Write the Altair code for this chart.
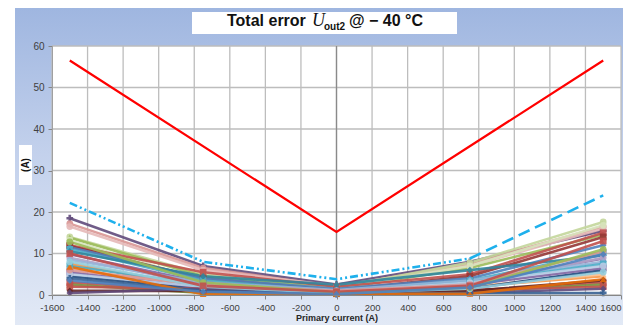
import altair as alt
import pandas as pd

W, H = 569, 249

# ---------------- data ----------------
x_pos = [-1500, -750, 0, 750, 1500]

series_colors = [
    "#604A7B", "#D99694", "#E6B9B8", "#C3D69B", "#9BBB59", "#D7E4BD",
    "#C0504D", "#953735", "#4F81BD", "#4BACC6", "#31859C", "#8064A2",
    "#B3A2C7", "#95B3D7", "#F79646", "#4BACC6", "#FAC090", "#1F497D",
    "#8064A2", "#B9CDE5", "#D99694", "#C0504D", "#77933C", "#C0504D",
    "#632523", "#5F497A", "#376092", "#E46C0A", "#93CDDD", "#9BBB59",
    "#C0504D", "#4F81BD",
]
series_shapes = [
    "cross", "circle", "circle", "circle", "triangle-up", "circle",
    "square", "square", "diamond", "square", "diamond", "triangle-up",
    "circle", "diamond", "triangle-up", "square", "triangle-up", "diamond",
    "square", "circle", "circle", "square", "triangle-up", "square",
    "diamond", "diamond", "cross", "triangle-up", "circle", "circle",
    "square", "diamond",
]
series_values = [
    [18.5, 7.0, 2.5, 8.0, 15.5],
    [17.2, 6.5, 2.0, 7.5, 16.5],
    [16.5, 6.0, 2.2, 7.0, 16.0],
    [14.0, 5.0, 1.8, 7.8, 17.6],
    [13.8, 4.5, 1.5, 6.5, 14.5],
    [13.2, 3.5, 1.5, 7.0, 16.8],
    [12.0, 5.5, 2.0, 5.0, 15.0],
    [11.8, 4.0, 1.2, 4.5, 14.0],
    [11.5, 4.0, 1.5, 4.0, 12.0],
    [11.0, 3.5, 1.0, 3.5, 10.2],
    [10.5, 4.5, 2.5, 6.0, 9.5],
    [9.8, 3.0, 1.0, 3.0, 8.8],
    [9.0, 2.5, 0.8, 2.5, 9.0],
    [8.5, 3.0, 1.2, 3.5, 8.0],
    [7.5, 2.0, 0.5, 2.0, 4.5],
    [7.0, 2.5, 0.8, 3.0, 7.5],
    [6.5, 1.5, 0.5, 2.0, 5.0],
    [4.5, 1.5, 0.5, 1.5, 6.0],
    [5.5, 1.8, 0.6, 2.5, 6.5],
    [5.0, 2.0, 0.8, 3.0, 7.0],
    [6.0, 2.5, 1.0, 2.5, 10.5],
    [3.0, 1.0, 0.3, 1.0, 3.0],
    [2.5, 0.5, 0.2, 0.8, 2.5],
    [2.0, 1.5, 0.5, 1.2, 2.0],
    [1.0, 1.0, 0.5, 1.0, 3.5],
    [0.5, 1.5, 0.3, 0.5, 1.5],
    [4.0, 1.0, 0.2, 0.5, 0.5],
    [6.8, 0.2, 0.3, 0.3, 3.8],
    [8.0, 2.0, 0.5, 1.5, 5.5],
    [12.8, 3.0, 0.6, 1.8, 11.0],
    [10.0, 2.2, 0.8, 2.2, 13.0],
    [3.5, 0.8, 0.2, 1.8, 9.8],
]

limit_x = [-1500, 0, 1500]
limit_y = [56.5, 15.2, 56.5]

spec_dashdot_x = [-1500, -750, 0, 750]
spec_dashdot_y = [22.2, 8.0, 3.8, 8.8]
spec_dash_x = [750, 1500]
spec_dash_y = [8.8, 24.0]

grid_x = list(range(-1600, 1601, 200))
grid_y = list(range(0, 61, 10))

# ---------------- tables ----------------
names = [f"s{i:02d}" for i in range(len(series_values))]
rows = []
for n, vals in zip(names, series_values):
    for xv, yv in zip(x_pos, vals):
        rows.append({"s": n, "x": xv, "y": yv})
df = pd.DataFrame(rows)

xscale = alt.Scale(domain=[-1600, 1600], nice=False, zero=False)
yscale = alt.Scale(domain=[0, 60], nice=False)

xaxis = alt.Axis(
    values=grid_x, grid=False, zindex=1, labelExpr="'' + datum.value",
    labelOverlap=False, labelFlush=False, labelBound=False,
    labelAlign={"condition": {"test": "datum.value >= 1600", "value": "right"}, "value": "center"},
    labelFont="Liberation Sans", labelFontSize=9.5, labelColor="#404040",
    tickColor="#868686", tickSize=4, domainColor="#868686", labelPadding=3,
    title="Primary current (A)", titleFont="Liberation Sans", titleFontSize=9,
    titleFontWeight="bold", titleColor="#262626", titlePadding=2,
)
yaxis = alt.Axis(
    values=grid_y, grid=False, zindex=1, title=None,
    labelFont="Liberation Sans", labelFontSize=10, labelColor="#404040",
    tickColor="#868686", tickSize=4, domainColor="#a0a0a0", labelPadding=4,
)

one = pd.DataFrame({"a": [0]})

bg_grad = alt.LinearGradient(
    gradient="linear", x1=0, x2=0, y1=0, y2=1,
    stops=[alt.GradientStop(color="#9fb6e0", offset=0),
           alt.GradientStop(color="#c3d1ec", offset=0.45),
           alt.GradientStop(color="#e3eaf6", offset=1)],
)
panel = alt.Chart(one).mark_rect(fill=bg_grad).encode(
    x=alt.value(-37), x2=alt.value(W + 2), y=alt.value(-38), y2=alt.value(H + 36)
)
title_box = alt.Chart(one).mark_rect(fill="white").encode(
    x=alt.value(140), x2=alt.value(405), y=alt.value(-34), y2=alt.value(-12)
)
ytitle_box = alt.Chart(one).mark_rect(fill="white").encode(
    x=alt.value(-33), x2=alt.value(-20), y=alt.value(99), y2=alt.value(139)
)
plot_bg = alt.Chart(one).mark_rect(fill="white").encode(
    x=alt.value(0), x2=alt.value(W), y=alt.value(0), y2=alt.value(H)
)

X = alt.X("x:Q", scale=xscale, axis=xaxis)
Y = alt.Y("y:Q", scale=yscale, axis=yaxis)

gx = alt.Chart(pd.DataFrame({"x": grid_x})).mark_rule(color="#bdbdbd", strokeWidth=1.3).encode(x=X)
gy = alt.Chart(pd.DataFrame({"y": grid_y})).mark_rule(color="#bdbdbd", strokeWidth=1.3).encode(y=Y)
zero_line = alt.Chart(pd.DataFrame({"x": [0]})).mark_rule(color="#8a8a8a", strokeWidth=1.3).encode(x=X)

color_scale = alt.Scale(domain=names, range=series_colors)
shape_scale = alt.Scale(domain=names, range=series_shapes)

lines = alt.Chart(df).mark_line(strokeWidth=2.6, opacity=0.9).encode(
    x=X, y=Y,
    color=alt.Color("s:N", scale=color_scale, legend=None),
    order="x:Q",
)
points = alt.Chart(df).mark_point(filled=True, size=45, opacity=0.9).encode(
    x=X, y=Y,
    color=alt.Color("s:N", scale=color_scale, legend=None),
    shape=alt.Shape("s:N", scale=shape_scale, legend=None),
)

spec1 = alt.Chart(pd.DataFrame({"x": spec_dashdot_x, "y": spec_dashdot_y})).mark_line(
    color="#1eb0ec", strokeWidth=2.6, strokeDash=[8, 3, 2, 3, 2, 3]
).encode(x=X, y=Y)
spec2 = alt.Chart(pd.DataFrame({"x": spec_dash_x, "y": spec_dash_y})).mark_line(
    color="#1eb0ec", strokeWidth=2.6, strokeDash=[12, 6]
).encode(x=X, y=Y)
limit = alt.Chart(pd.DataFrame({"x": limit_x, "y": limit_y})).mark_line(
    color="#ff0000", strokeWidth=2.2
).encode(x=X, y=Y)


def txt(text, vx, vy, size, weight="bold", style="normal", font="Liberation Sans",
        align="left", angle=0, baseline="alphabetic"):
    return alt.Chart(one).mark_text(
        text=text, fontSize=size, fontWeight=weight, fontStyle=style, font=font,
        align=align, baseline=baseline, angle=angle, color="#111111"
    ).encode(x=alt.value(vx), y=alt.value(vy))


t1 = txt("Total error", 175, -20, 16)
t2 = txt("U", 260, -20, 18, weight="normal", style="italic", font="Liberation Serif")
t3 = txt("out2", 272, -16, 10)
t4 = txt("@ \u2212 40 \u00b0C", 297, -20, 16)
yt = txt("(A)", -26, 119, 10, align="center", angle=270, baseline="middle")

chart = alt.layer(
    panel, title_box, ytitle_box, plot_bg, gx, gy, zero_line,
    lines, points, spec1, spec2, limit, t1, t2, t3, t4, yt
).properties(
    width=W, height=H,
    padding={"left": 44, "top": 38, "right": 2, "bottom": 30},
    autosize=alt.AutoSizeParams(type="none"),
).configure_view(stroke=None).configure(background="white")

chart.save("out.html", embed_options={"renderer": "svg", "actions": False})
